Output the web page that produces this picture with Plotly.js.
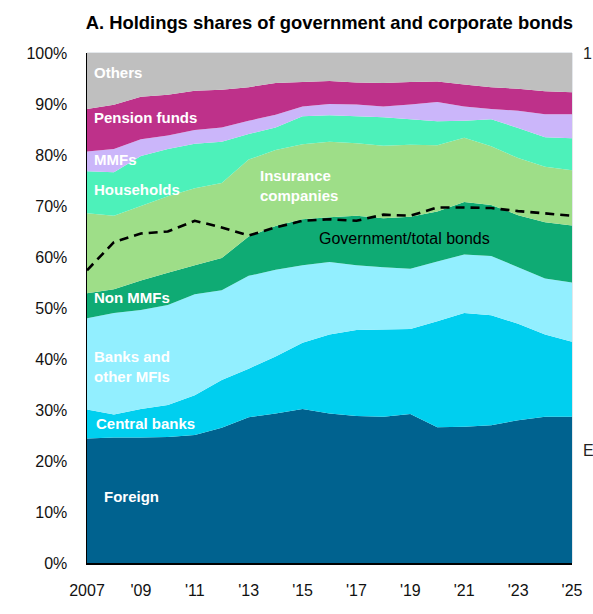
<!DOCTYPE html>
<html>
<head>
<meta charset="utf-8">
<script src="https://cdn.plot.ly/plotly-3.0.1.min.js"></script>
<style>html,body{margin:0;padding:0;background:#fff;}#chart{width:593px;height:614px;}</style>
</head>
<body>
<div id="chart"></div>
<script>
// ---- data (shares of holdings, % of total) ----
const years = [2007,2008,2009,2010,2011,2012,2013,2014,2015,2016,2017,2018,2019,2020,2021,2022,2023,2024,2025];
const tickYears = [2007,2009,2011,2013,2015,2017,2019,2021,2023,2025];
const tickLabels = ["2007","'09","'11","'13","'15","'17","'19","'21","'23","'25"];

const foreign      = [24.4,24.6,24.6,24.7,25.1,26.5,28.6,29.3,30.2,29.3,28.8,28.7,29.2,26.6,26.7,27.0,28.0,28.7,28.7];
const centralBanks = [5.7,4.5,5.6,6.3,7.8,9.4,9.5,11.2,13.0,15.5,16.9,17.1,16.7,20.8,22.3,21.6,18.9,16.1,14.7];
const banksMFIs    = [17.9,19.9,19.4,19.6,19.8,17.6,18.2,17.0,15.2,14.2,12.7,12.2,11.8,11.7,11.5,11.6,11.1,11.0,11.6];
const nonMMFs      = [4.9,4.7,5.8,6.3,5.7,6.3,7.7,8.6,9.0,8.8,9.7,9.6,10.2,9.8,10.3,10.0,10.2,11.0,11.2];
const insurance    = [15.7,14.4,14.6,15.0,15.1,14.7,15.1,14.9,14.7,14.8,14.2,14.2,14.1,13.0,12.6,11.5,11.2,10.9,10.8];
const households   = [8.2,8.5,9.8,9.3,8.7,8.1,5.0,4.4,5.5,5.2,5.3,5.6,5.0,4.7,3.3,5.3,5.9,5.8,6.3];
const mmfs         = [3.9,4.6,3.3,2.6,2.7,2.8,2.6,2.5,1.9,2.2,2.3,2.1,2.9,3.8,2.8,2.0,3.4,4.5,4.7];
const pension      = [8.3,8.65,8.3,8.0,7.7,7.4,6.6,6.2,4.8,4.5,4.3,4.6,4.4,4.0,4.3,4.3,4.3,4.5,4.3];
const others       = [11.0,10.15,8.6,8.2,7.4,7.2,6.7,5.9,5.7,5.5,5.8,5.9,5.7,5.6,6.2,6.7,7.0,7.5,7.7];
const govShare     = [57.4,62.9,64.6,65.0,67.1,65.8,64.2,65.8,67.1,67.4,67.1,68.3,68.1,69.7,69.7,69.6,69.0,68.6,68.1];

const seriesNames  = ["Foreign","Central banks","Banks and other MFIs","Non MMFs","Insurance companies","Households","MMFs","Pension funds","Others"];
const seriesValues = [foreign,centralBanks,banksMFIs,nonMMFs,insurance,households,mmfs,pension,others];
const seriesColors = ["#00628f","#00cfef","#92efff","#0fab74","#9ede88","#4df1ba","#cbb6fa","#be318a","#bfbfbf"];

const FONT = "'Liberation Sans', Arial, sans-serif";

const traces = seriesValues.map((v,i)=>({
  type:'scatter', x:years, y:v, name:seriesNames[i],
  stackgroup:'one', mode:'none', line:{width:0},
  fillcolor:seriesColors[i], hoverinfo:'skip'
}));
traces.push({
  type:'scatter', x:years, y:govShare, name:'Government/total bonds',
  mode:'lines', line:{color:'#000', width:2.6, dash:'9px,6px'}, hoverinfo:'skip'
});

const toPct = py => (562.7 - py)/5.094;
function lab(text, x, py, opts={}) {
  return Object.assign({
    text:text, x:x, y:toPct(py), xref:'x', yref:'y', xanchor:'left', yanchor:'middle',
    showarrow:false, align:'left',
    font:{family:FONT, size:15, color:'#ffffff'}
  }, opts);
}

const annotations = [
  lab('<b>Others</b>', 2007.17, 73),
  lab('<b>Pension funds</b>', 2007.2, 118),
  lab('<b>MMFs</b>', 2007.2, 160),
  lab('<b>Households</b>', 2007.2, 190),
  lab('<b>Insurance<br>companies</b>', 2013.35, 186),
  lab('<b>Non MMFs</b>', 2007.2, 298),
  lab('<b>Banks and<br>other MFIs</b>', 2007.2, 366),
  lab('<b>Central banks</b>', 2007.25, 423),
  lab('<b>Foreign</b>', 2007.55, 496),
  lab('Government/total bonds', 2015.55, 239, {font:{family:FONT, size:16, color:'#000'}}),
  {text:'1', x:1.0, y:(563-53)/510, xref:'paper', yref:'paper', showarrow:false,
   xanchor:'left', yanchor:'middle', xshift:9, font:{family:FONT, size:16, color:'#222'}},
  {text:'E', x:1.0, y:(563-450)/510, xref:'paper', yref:'paper', showarrow:false,
   xanchor:'left', yanchor:'middle', xshift:9, font:{family:FONT, size:16, color:'#222'}}
];

const layout = {
  width:593, height:614,
  margin:{l:87, r:21, t:53, b:51, pad:0},
  paper_bgcolor:'#fff', plot_bgcolor:'#fff',
  showlegend:false,
  title:{text:'<b>A. Holdings shares of government and corporate bonds</b>',
         font:{family:FONT, size:18.4, color:'#000'},
         x:0.5555, xanchor:'center', y:0.963, yanchor:'middle'},
  xaxis:{range:[2007,2025], tickvals:tickYears, ticktext:tickLabels,
         showgrid:false, zeroline:false, showline:true, linecolor:'#000', linewidth:1.5,
         ticks:'outside', ticklen:12, tickcolor:'rgba(0,0,0,0)',
         tickfont:{family:FONT, size:16, color:'#111'}, fixedrange:true},
  yaxis:{range:[0,100], dtick:10, tick0:0, ticksuffix:'%',
         showgrid:false, zeroline:false, showline:true, linecolor:'#000', linewidth:1.5,
         ticks:'outside', ticklen:15, tickcolor:'rgba(0,0,0,0)',
         tickfont:{family:FONT, size:16, color:'#111'}, fixedrange:true},
  shapes:[{type:'rect', xref:'paper', yref:'paper', x0:0, x1:1, y0:0, y1:1,
           line:{color:'#c9d0d8', width:1}, layer:'below'}],
  annotations:annotations
};

Plotly.newPlot('chart', traces, layout, {staticPlot:true, displayModeBar:false});
</script>
</body>
</html>
